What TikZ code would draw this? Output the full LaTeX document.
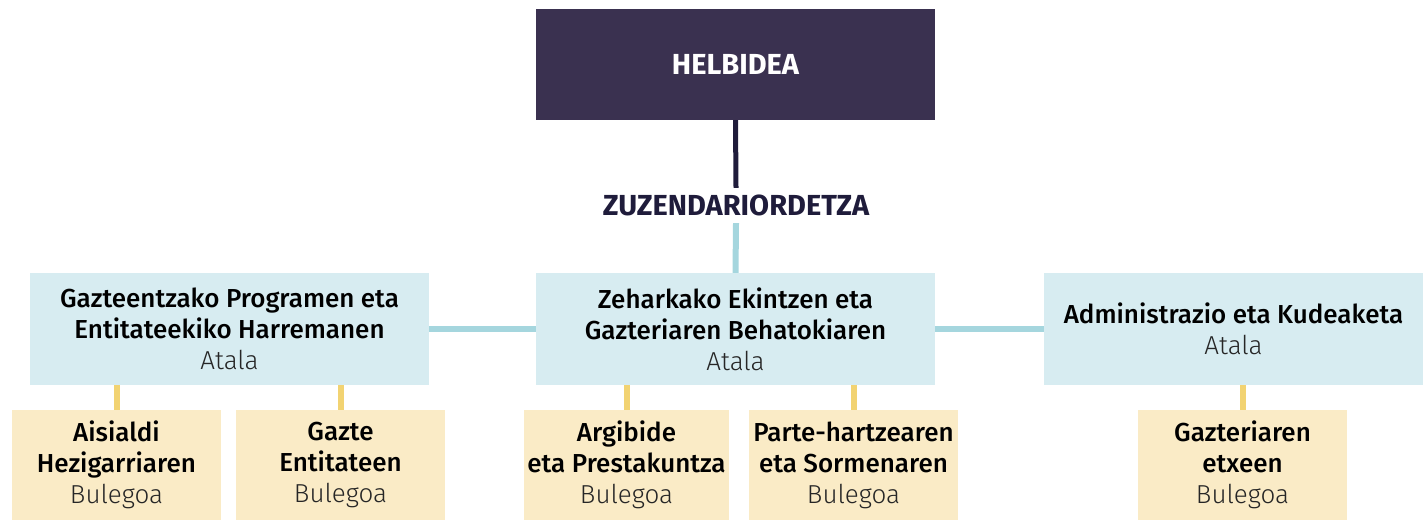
\documentclass[tikz,border=0pt]{standalone}
\usepackage{fontspec}
\setmainfont{Fira Sans}[BoldFont={Fira Sans Medium}]
\newfontfamily\lightf{Fira Sans Light}
\newfontfamily\heavyf{Fira Sans Bold}
\definecolor{topfill}{HTML}{3A3150}
\definecolor{navy}{HTML}{1F1C3B}
\definecolor{bluefill}{HTML}{D7ECF1}
\definecolor{blueline}{HTML}{A5D6DE}
\definecolor{yelfill}{HTML}{FAEBC6}
\definecolor{yelline}{HTML}{F2D372}
\newcommand{\subl}[1]{{\mdseries\lightf\color{black!85}#1}}
\begin{document}
\begin{tikzpicture}[x=1pt,y=-1pt,
  box/.style={rectangle, inner sep=0pt, align=center, font=\fontsize{26}{31}\selectfont\bfseries},
  atala/.style={box, fill=bluefill, minimum height=112pt},
  bulego/.style={box, fill=yelfill, minimum height=110pt, minimum width=209pt},
  bl/.style={draw=blueline, line width=6pt},
  yl/.style={draw=yelline, line width=6pt}
]
\useasboundingbox (0,0) rectangle (1423,519);
\node[box, fill=topfill, minimum width=399pt, minimum height=111pt, text=white, font=\fontsize{29}{31}\selectfont\heavyf] (top) at (735.5,64.5) {HELBIDEA};
\node[box, text=navy, font=\fontsize{29}{31}\selectfont\heavyf, minimum height=35pt] (zuz) at (736,205.5) {ZUZENDARIORDETZA};
\node[atala, minimum width=399pt] (left) at (229.5,329) {Gazteentzako Programen eta\\Entitateekiko Harremanen\\\subl{Atala}};
\node[atala, minimum width=399pt] (mid) at (735.5,329) {Zeharkako Ekintzen eta\\Gazteriaren Behatokiaren\\\subl{Atala}};
\node[atala, minimum width=379pt] (right) at (1233.5,329) {Administrazio eta Kudeaketa\\\subl{Atala}};
\node[bulego] (b1) at (116.5,465) {Aisialdi\\Hezigarriaren\\\subl{Bulegoa}};
\node[bulego] (b2) at (340.5,465) {Gazte\\Entitateen\\\subl{Bulegoa}};
\node[bulego, minimum width=205pt] (b3) at (626.5,465) {Argibide\\eta Prestakuntza\\\subl{Bulegoa}};
\node[bulego] (b4) at (853.5,465) {Parte-hartzearen\\eta Sormenaren\\\subl{Bulegoa}};
\node[bulego] (b5) at (1242.5,465) {Gazteriaren\\etxeen\\\subl{Bulegoa}};
\draw[navy, line width=5pt] (top.south) -- (zuz.north);
\draw[bl] (zuz.south) -- (mid.north);
\draw[bl] (left.east) -- (mid.west);
\draw[bl] (mid.east) -- (right.west);
\draw[yl] (left.south -| b1.north) -- (b1.north);
\draw[yl] (left.south -| b2.north) -- (b2.north);
\draw[yl] (mid.south -| b3.north) -- (b3.north);
\draw[yl] (mid.south -| b4.north) -- (b4.north);
\draw[yl] (right.south -| b5.north) -- (b5.north);
\end{tikzpicture}
\end{document}
